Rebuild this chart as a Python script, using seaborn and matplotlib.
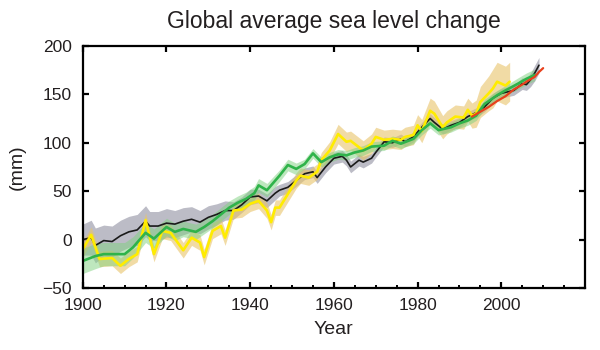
import numpy as np
import pandas as pd
import matplotlib
matplotlib.use("Agg")
import matplotlib.pyplot as plt
from matplotlib.ticker import MultipleLocator
import seaborn as sns

# ---- data (mm, relative to ~1900) ----
black_years = [1900, 1902, 1903, 1905, 1907, 1909, 1911, 1913, 1915, 1916, 1918, 1920,
               1922, 1924, 1926, 1928, 1930, 1932, 1934, 1936, 1938, 1940, 1942, 1944,
               1946, 1947, 1949, 1951, 1953, 1955, 1956, 1958, 1960, 1962, 1963, 1964,
               1966, 1967, 1969, 1970, 1972, 1974, 1976, 1977, 1979, 1981, 1983, 1984,
               1986, 1988, 1990, 1992, 1994, 1996, 1998, 2000, 2003, 2005, 2006, 2007,
               2008, 2009]
black_vals = [0, 2, -6, -1, -2, 4, 8, 10, 19, 14, 14, 17,
              16, 19, 21, 18, 23, 26, 30, 30, 36, 44, 45, 40,
              48, 51, 54, 61, 68, 70, 64, 75, 84, 86, 82, 75,
              82, 80, 84, 90, 101, 100, 104, 101, 106, 116, 125, 121,
              114, 118, 121, 127, 131, 137, 146, 151, 154, 161, 160, 165,
              172, 180]
black_err = [16, 18, 18, 16, 16, 16, 16, 16, 16, 15, 15, 15,
             14, 14, 13, 12, 12, 11, 10, 9, 8, 8, 7, 7,
             7, 6, 6, 6, 6, 6, 6, 6, 6, 6, 6, 6,
             6, 6, 5, 5, 5, 5, 5, 5, 5, 5, 5, 5,
             5, 5, 5, 5, 5, 5, 5, 5, 5, 6, 6, 7,
             8, 8]

yellow_years = [1900, 1902, 1904, 1907, 1909, 1911, 1913, 1915, 1917, 1919, 1921, 1924,
                1926, 1928, 1929, 1931, 1933, 1934, 1936, 1938, 1940, 1942, 1944, 1945,
                1946, 1947, 1949, 1951, 1952, 1954, 1956, 1957, 1959, 1961, 1963, 1964,
                1967, 1969, 1970, 1972, 1974, 1976, 1977, 1979, 1980, 1981, 1983, 1984,
                1986, 1987, 1989, 1991, 1992, 1993, 1994, 1995, 1997, 1998, 1999, 2001,
                2002]
yellow_vals = [-10, 5, -20, -19, -27, -20, -15, 20, -15, 9, 7, -11,
               2, -3, -18, 9, 14, 2, 30, 31, 37, 40, 30, 18,
               33, 33, 47, 61, 66, 64, 70, 82, 92, 109, 101, 102,
               92, 99, 106, 103, 104, 103, 106, 108, 118, 112, 133, 130,
               116, 121, 127, 126, 134, 128, 130, 142, 151, 156, 163, 159,
               163]
yellow_err = [8, 8, 8, 8, 8, 8, 8, 8, 8, 8, 8, 8,
              8, 8, 8, 8, 8, 8, 8, 8, 8, 8, 8, 8,
              8, 8, 8, 8, 8, 8, 8, 8, 9, 10, 10, 10,
              10, 10, 10, 10, 10, 10, 10, 10, 11, 12, 13, 13,
              12, 12, 12, 12, 12, 13, 14, 16, 18, 20, 20, 20,
              20]

green_years = [1900, 1903, 1905, 1910, 1912, 1915, 1917, 1920, 1922, 1924, 1927, 1929,
               1931, 1933, 1935, 1937, 1939, 1941, 1942, 1944, 1947, 1949, 1951, 1953,
               1955, 1957, 1959, 1961, 1963, 1965, 1967, 1969, 1972, 1974, 1976, 1979,
               1981, 1983, 1985, 1988, 1990, 1992, 1994, 1996, 1999, 2001, 2004, 2006,
               2008]
green_vals = [-22, -17, -15, -15, -8, 7, 1, 13, 8, 11, 8, 13,
              19, 26, 33, 38, 42, 48, 56, 51, 66, 77, 73, 78,
              89, 80, 85, 88, 87, 90, 92, 96, 97, 102, 99, 104,
              113, 120, 113, 116, 120, 123, 128, 140, 149, 154, 161, 166,
              170]
green_err = [13, 13, 12, 12, 11, 10, 10, 9, 9, 8, 8, 7,
             7, 7, 7, 7, 7, 7, 7, 7, 6, 6, 6, 5,
             5, 5, 5, 5, 5, 5, 5, 5, 5, 5, 5, 5,
             5, 5, 5, 5, 5, 5, 5, 5, 5, 5, 6, 6,
             6]

red_years = [1993, 1995, 1997, 1999, 2001, 2003, 2005, 2006, 2008, 2009, 2010]
red_vals = [127, 132, 137, 143, 148, 155, 160, 163, 168, 173, 177]

sns.set_style("ticks")
plt.rcParams['font.family'] = ['Liberation Sans', 'DejaVu Sans']
txt = "#231f20"

fig = plt.figure(figsize=(6, 3.5), dpi=100)
ax = fig.add_axes([0.138, 0.177, 0.837, 0.692])

# uncertainty bands
bands = [
    (black_years, black_vals, black_err, "#a6a6b4", 0.75),
    (yellow_years, yellow_vals, yellow_err, "#e9c46a", 0.6),
    (green_years, green_vals, green_err, "#7fd17f", 0.5),
]
for yrs, vals, err, col, a in bands:
    v = np.array(vals, dtype=float)
    e = np.array(err, dtype=float)
    ax.fill_between(yrs, v - e, v + e, color=col, alpha=a, lw=0)

# central lines
df = pd.concat([
    pd.DataFrame({"Year": black_years, "mm": black_vals, "set": "black"}),
    pd.DataFrame({"Year": yellow_years, "mm": yellow_vals, "set": "yellow"}),
    pd.DataFrame({"Year": green_years, "mm": green_vals, "set": "green"}),
    pd.DataFrame({"Year": red_years, "mm": red_vals, "set": "red"}),
])
colors = {"black": "#1a1a1a", "yellow": "#ffec00", "green": "#2fb34a", "red": "#e8401c"}
widths = {"black": 1.2, "yellow": 1.9, "green": 1.9, "red": 1.6}
for name in ["black", "yellow", "green", "red"]:
    sns.lineplot(data=df[df["set"] == name], x="Year", y="mm", color=colors[name],
                 lw=widths[name], ax=ax, legend=False, estimator=None)

ax.set_xlim(1900, 2020)
ax.set_ylim(-50, 200)
ax.set_xticks([1900, 1920, 1940, 1960, 1980, 2000])
ax.set_yticks([-50, 0, 50, 100, 150, 200])
ax.xaxis.set_minor_locator(MultipleLocator(5))
ax.tick_params(which="major", direction="in", length=4, width=1.6,
               top=True, right=True, labelsize=12.5, colors="black", labelcolor=txt)
ax.tick_params(axis="x", which="major", pad=7)
ax.tick_params(axis="y", which="major", pad=8)
ax.tick_params(which="minor", direction="in", length=2.5, width=1.4,
               top=False, right=False, colors="black")
for sp in ax.spines.values():
    sp.set_linewidth(1.6)
    sp.set_color("black")

ax.set_xlabel("Year", fontsize=14, labelpad=6, color=txt)
ax.set_ylabel("(mm)", fontsize=14, labelpad=12, color=txt)
ax.set_title("Global average sea level change", fontsize=16.5, pad=13, color=txt)

fig.savefig("out.png", dpi=100)
